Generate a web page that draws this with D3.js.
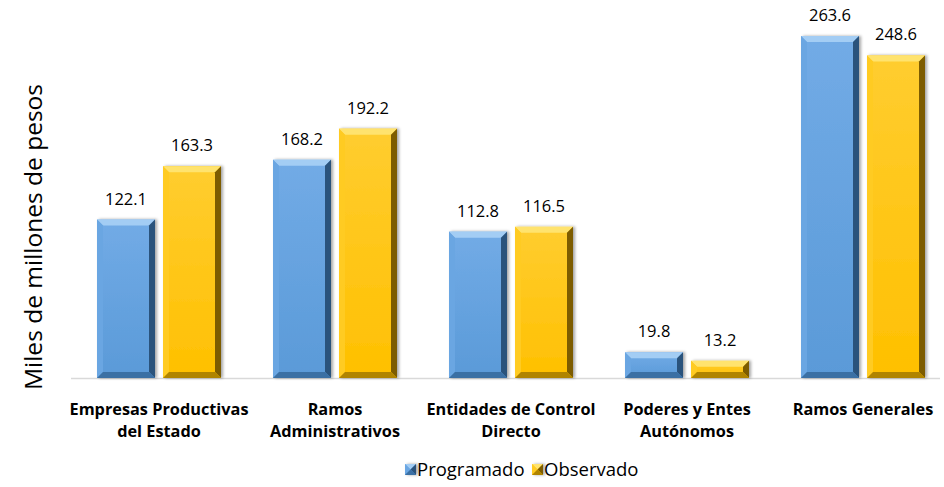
<!DOCTYPE html>
<html>
<head>
<meta charset="utf-8">
<script src="https://cdn.jsdelivr.net/npm/d3@7"></script>
<style>
  body { margin: 0; background: #fff; }
  svg { font-family: "Open Sans", Lato, sans-serif; }
</style>
</head>
<body>
<div id="chart"></div>
<script>
// chart data
var categories = [["Empresas Productivas", "del Estado"], ["Ramos", "Administrativos"], ["Entidades de Control", "Directo"], ["Poderes y Entes", "Autónomos"], ["Ramos Generales"]];
var programado = [122.1, 168.2, 112.8, 19.8, 263.6];
var observado  = [163.3, 192.2, 116.5, 13.2, 248.6];
var seriesNames = ["Programado", "Observado"];

var W = 944, H = 487;
var svg = d3.select("#chart").append("svg").attr("width", W).attr("height", H);

var x = d3.scaleBand().domain(d3.range(categories.length)).range([71, 951]);
var y = d3.scaleLinear().domain([0, 263.6]).range([378, 36]);

var colors = [
  {top: "#72abe6", main: "#5a9ad8", light: "#a3cdf4", side: "#6aa6e2", dark: "#29527c", bottom: "#3b6fa4"},
  {top: "#ffcd30", main: "#ffc000", light: "#ffe36e", side: "#ffcb22", dark: "#7d5c00", bottom: "#b08400"}
];

var defs = svg.append("defs");
colors.forEach(function(c, i) {
  var g = defs.append("linearGradient").attr("id", "g" + i).attr("x1", 0).attr("x2", 0).attr("y1", 0).attr("y2", 1);
  g.append("stop").attr("offset", "0%").attr("stop-color", c.top);
  g.append("stop").attr("offset", "100%").attr("stop-color", c.main);
});
var f = defs.append("filter").attr("id", "sh").attr("x", "-20%").attr("y", "-20%").attr("width", "140%").attr("height", "140%");
f.append("feDropShadow").attr("dx", 2).attr("dy", 0).attr("stdDeviation", 1.5).attr("flood-color", "#000").attr("flood-opacity", 0.35);

// axis line
svg.append("line").attr("x1", 71).attr("x2", 940).attr("y1", 378.5).attr("y2", 378.5)
  .attr("stroke", "#d9d9d9").attr("stroke-width", 1.5);

var barW = 58, gap = 8, bev = 6;

function drawBar(g, x0, y0, w, h, c, i) {
  var x1 = x0 + w, y1 = y0 + h;
  var b = Math.min(bev, h / 2, w / 2);
  var bar = g.append("g").attr("filter", "url(#sh)");
  bar.append("rect").attr("x", x0).attr("y", y0).attr("width", w).attr("height", h).attr("fill", "url(#g" + i + ")");
  // top bevel
  bar.append("polygon").attr("points", [[x0, y0], [x1, y0], [x1 - b, y0 + b], [x0 + b, y0 + b]].join(" ")).attr("fill", c.light);
  // left bevel
  bar.append("polygon").attr("points", [[x0, y0], [x0 + b, y0 + b], [x0 + b, y1 - b], [x0, y1]].join(" ")).attr("fill", c.side);
  // right bevel
  bar.append("polygon").attr("points", [[x1, y0], [x1, y1], [x1 - b, y1 - b], [x1 - b, y0 + b]].join(" ")).attr("fill", c.dark);
  // bottom bevel
  bar.append("polygon").attr("points", [[x0, y1], [x0 + b, y1 - b], [x1 - b, y1 - b], [x1, y1]].join(" ")).attr("fill", c.bottom);
}

var series = [programado, observado];
categories.forEach(function(cat, k) {
  var cx = x(k) + x.bandwidth() / 2;
  series.forEach(function(vals, i) {
    var x0 = i === 0 ? cx - gap / 2 - barW : cx + gap / 2;
    var top = y(vals[k]);
    drawBar(svg, x0, top, barW, y(0) - top, colors[i], i);
    svg.append("text").attr("x", x0 + barW / 2).attr("y", top - 15)
      .attr("text-anchor", "middle").attr("font-size", 16.5).attr("fill", "#000")
      .text(vals[k].toFixed(1));
  });
  var t = svg.append("text").attr("text-anchor", "middle").attr("font-size", 16.3)
    .attr("font-weight", "bold").attr("fill", "#000");
  cat.forEach(function(line, j) {
    t.append("tspan").attr("x", cx).attr("y", 415 + j * 22).text(line);
  });
});

// y title
svg.append("text").attr("transform", "translate(42,237) rotate(-90)")
  .attr("text-anchor", "middle").attr("font-size", 24.5).attr("fill", "#000")
  .text("Miles de millones de pesos");

// legend
var leg = svg.append("g");
var lx = [405, 532];
seriesNames.forEach(function(n, i) {
  drawBar(leg, lx[i], 464, 11, 11, colors[i], i);
  leg.append("text").attr("x", lx[i] + 12).attr("y", 476).attr("font-size", 18.5).attr("fill", "#000").text(n);
});
</script>
</body>
</html>
